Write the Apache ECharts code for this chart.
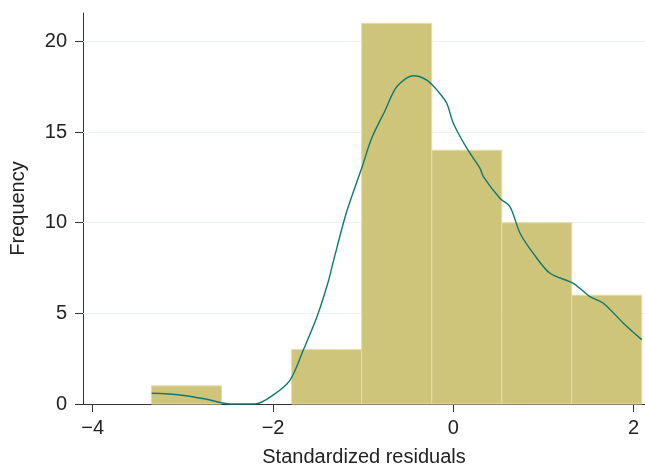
<!DOCTYPE html>
<html>
<head>
<meta charset="utf-8">
<script src="https://cdn.jsdelivr.net/npm/echarts@6/dist/echarts.min.js"></script>
<style>
html,body{margin:0;padding:0;background:#fff;}
#chart{width:645px;height:467px;}
</style>
</head>
<body>
<div id="chart"></div>
<script>
// Histogram bins (edges) and frequencies
const binEdges = [-3.350, -2.571, -1.794, -1.017, -0.240, 0.537, 1.313, 2.090];
const binCounts = [1, 0, 3, 21, 14, 10, 6];
// Kernel density curve (scaled to frequency)
const curveX = [-3.346, -3.032, -2.735, -2.477, -2.199, -1.997, -1.811, -1.664, -1.515, -1.387, -1.331, -1.182, -1.016, -0.905, -0.758, -0.628, -0.444, -0.295, -0.166, -0.073, 0.000, 0.149, 0.296, 0.333, 0.518, 0.629, 0.740, 0.887, 1.072, 1.331, 1.516, 1.664, 1.886, 2.090];
const curveY = [0.59, 0.50, 0.26, 0.0, 0.0, 0.50, 1.32, 2.98, 4.78, 6.76, 7.87, 10.63, 13.02, 14.67, 16.18, 17.50, 18.11, 17.87, 17.23, 16.59, 15.49, 14.11, 13.00, 12.54, 11.34, 10.88, 9.42, 8.31, 7.21, 6.66, 5.92, 5.56, 4.46, 3.55];
// Axis ticks
const xTicks = [-4, -2, 0, 2];
const yTicks = [0, 5, 10, 15, 20];
const gridLines = [5, 10, 15, 20];

const barData = binCounts.map((c, i) => [binEdges[i], binEdges[i + 1], c]);
const curveData = curveX.map((x, i) => [x, curveY[i]]);

const FONT = '"Liberation Sans", Arial, Helvetica, sans-serif';
const TXT = '#222222';
const fmt = v => (v < 0 ? '\u2212' + Math.abs(v) : String(v));

const chart = echarts.init(document.getElementById('chart'), null, {renderer: 'canvas'});
chart.setOption({
  animation: false,
  backgroundColor: '#ffffff',
  grid: {left: 83, right: 0, top: 13, bottom: 63, containLabel: false, outerBoundsMode: 'none'},
  xAxis: {
    type: 'value', min: -4.108, max: 2.126,
    name: 'Standardized residuals', nameLocation: 'middle', nameGap: 43,
    nameTextStyle: {fontFamily: FONT, fontSize: 20, color: TXT},
    axisLine: {show: true, lineStyle: {color: '#333333', width: 1}},
    axisTick: {show: true, length: 8, customValues: xTicks, lineStyle: {color: '#333333'}},
    axisLabel: {customValues: xTicks, formatter: fmt, margin: 14, fontFamily: FONT, fontSize: 20, color: TXT},
    splitLine: {show: false}
  },
  yAxis: {
    type: 'value', min: 0, max: 21.57,
    name: 'Frequency', nameLocation: 'middle', nameGap: 55, nameRotate: 90,
    nameTextStyle: {fontFamily: FONT, fontSize: 20, color: TXT},
    axisLine: {show: true, onZero: false, lineStyle: {color: '#333333', width: 1}},
    axisTick: {show: true, length: 8, customValues: yTicks, lineStyle: {color: '#333333'}},
    axisLabel: {customValues: yTicks, formatter: fmt, margin: 16, fontFamily: FONT, fontSize: 20, color: TXT},
    splitLine: {show: false}
  },
  series: [
    {
      type: 'custom',
      data: barData,
      encode: {x: [0, 1], y: 2},
      z: 2,
      renderItem: function (params, api) {
        const p0 = api.coord([api.value(0), 0]);
        const p1 = api.coord([api.value(1), api.value(2)]);
        return {
          type: 'rect',
          shape: {x: p0[0], y: p1[1], width: p1[0] - p0[0], height: p0[1] - p1[1]},
          style: {fill: api.value(2) > 0 ? '#cec47a' : 'transparent', stroke: api.value(2) > 0 ? '#e4dcaa' : 'transparent', lineWidth: 1}
        };
      },
      markLine: {
        silent: true, symbol: 'none', z: 1,
        label: {show: false},
        lineStyle: {color: '#e9f3f5', width: 1, type: 'solid'},
        data: gridLines.map(v => ({yAxis: v}))
      }
    },
    {
      type: 'line',
      data: curveData,
      smooth: 0.3,
      showSymbol: false,
      z: 3,
      lineStyle: {color: '#0e7a72', width: 1.4}
    }
  ]
});
</script>
</body>
</html>
